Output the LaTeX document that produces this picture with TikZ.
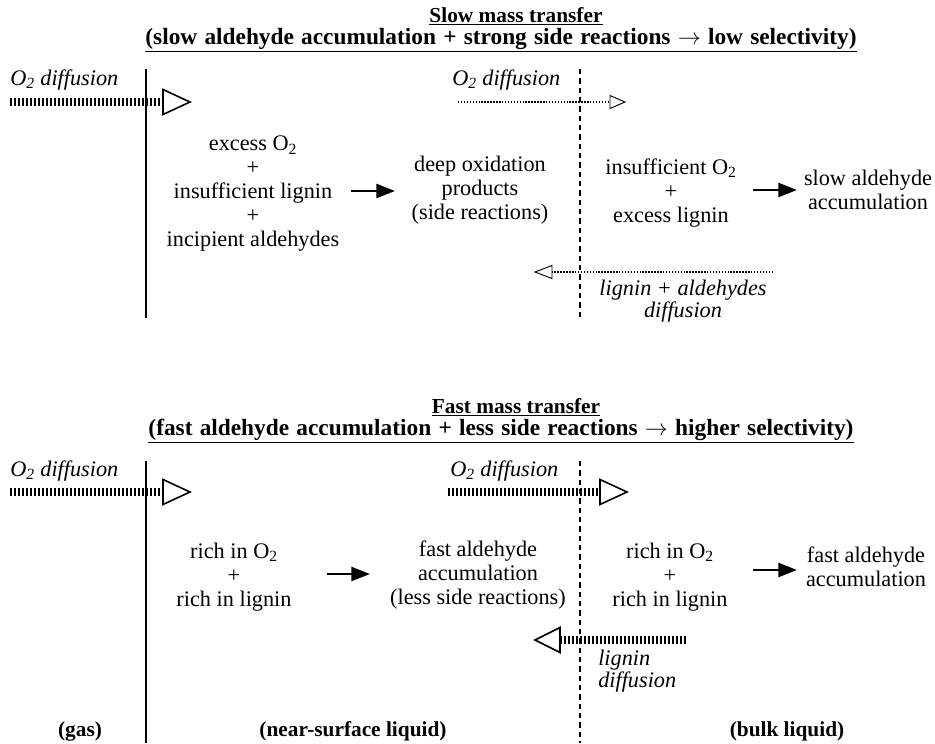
\documentclass[tikz,border=0pt]{standalone}
\usepackage{fontspec}
\setmainfont{Liberation Serif}
\usetikzlibrary{arrows.meta}
\newcommand\widespaces{\spaceskip=0.31em plus 0.1em\relax}
\begin{document}
\begin{tikzpicture}[x=0.75pt,y=-0.75pt,
  txt/.style={inner sep=0pt, align=center, font=\fontsize{16.7}{18}\selectfont},
  lbl/.style={inner sep=0pt, align=center, font=\fontsize{16.7}{17}\selectfont\itshape},
  hdr/.style={inner sep=0pt, font=\fontsize{16}{18}\selectfont\bfseries},
  hdrwide/.style={inner sep=0pt, font=\fontsize{17.5}{18}\selectfont\bfseries},
  wall/.style={line width=1.1pt},
  iface/.style={line width=1pt, dash pattern=on 4pt off 3pt},
  hatch/.style={line width=6pt, dash pattern=on 1.5pt off 1.5pt},
  dots/.style={line width=0.9pt, dash pattern=on 1.1pt off 1.1pt},
  tri/.style={line width=1.2pt, line join=miter},
  smalltri/.style={line width=0.7pt, line join=miter},
  blk/.style={line width=1.8pt, -{Triangle[length=14pt,width=10.5pt]}}
]
\useasboundingbox (0,0) rectangle (935,743);

% ================= top panel =================
\node[hdr] (t1) at (516,16) {\underline{Slow mass transfer}};
\node[hdrwide] (t2) at (501,40) {\widespaces\underline{(slow aldehyde accumulation + strong side reactions $\rightarrow$ low selectivity)}};

\coordinate (s1t) at (146,69); \coordinate (s1b) at (146,318);
\draw[wall] (s1t) -- (s1b);
\coordinate (d1t) at (580,69); \coordinate (d1b) at (580,320);
\draw[iface] (d1t) -- (d1b);

\node[lbl, anchor=west] (o2a) at (10,80) {O\textsubscript{2} diffusion};
\coordinate (h1s) at (10,102); \coordinate (h1e) at (163,102);
\draw[hatch] (h1s) -- (h1e);
\draw[tri] (h1e) ++(0,-12.5) -- ++(27,12.5) -- ++(-27,12.5) -- cycle;

\node[lbl, anchor=west] (o2b) at (452,80) {O\textsubscript{2} diffusion};
\coordinate (p1s) at (458,102); \coordinate (p1e) at (610,102);
\draw[dots] (p1s) -- (p1e);
\draw[smalltri] (p1e) ++(0,-6.5) -- ++(15,6.5) -- ++(-15,6.5) -- cycle;

\node[txt] (g1) at (253,194) {excess O\textsubscript{2}\\+\\insufficient lignin\\+\\incipient aldehydes};
\coordinate (a1s) at (351,191); \coordinate (a1e) at (395,191);
\draw[blk] (a1s) -- (a1e);
\node[txt] (g2) at (480,190) {deep oxidation\\products\\(side reactions)};
\node[txt] (g3) at (671,193) {insufficient O\textsubscript{2}\\+\\excess lignin};
\coordinate (a2s) at (753,190); \coordinate (a2e) at (797,190);
\draw[blk] (a2s) -- (a2e);
\node[txt] (g4) at (868,190) {slow aldehyde\\accumulation};

\coordinate (q1s) at (773,272); \coordinate (q1e) at (552,272);
\draw[dots] (q1s) -- (q1e);
\draw[smalltri] (q1e) ++(0,-6.5) -- ++(-17,6.5) -- ++(17,6.5) -- cycle;
\node[lbl] (ld1) at (683,301) {lignin + aldehydes\\diffusion};

% ================= bottom panel =================
\node[hdr] (t3) at (516,407) {\underline{Fast mass transfer}};
\node[hdrwide] (t4) at (501,431) {\widespaces\underline{(fast aldehyde accumulation + less side reactions $\rightarrow$ higher selectivity)}};

\coordinate (s2t) at (146,461); \coordinate (s2b) at (146,743);
\draw[wall] (s2t) -- (s2b);
\coordinate (d2t) at (580,461); \coordinate (d2b) at (580,743);
\draw[iface] (d2t) -- (d2b);

\node[lbl, anchor=west] (o2c) at (10,471) {O\textsubscript{2} diffusion};
\coordinate (h2s) at (10,492); \coordinate (h2e) at (163,492);
\draw[hatch] (h2s) -- (h2e);
\draw[tri] (h2e) ++(0,-12.5) -- ++(27,12.5) -- ++(-27,12.5) -- cycle;

\node[lbl, anchor=west] (o2d) at (450,471) {O\textsubscript{2} diffusion};
\coordinate (h3s) at (448,492); \coordinate (h3e) at (600,492);
\draw[hatch] (h3s) -- (h3e);
\draw[tri] (h3e) ++(0,-12.5) -- ++(27,12.5) -- ++(-27,12.5) -- cycle;

\node[txt] (g5) at (234,577) {rich in O\textsubscript{2}\\+\\rich in lignin};
\coordinate (a3s) at (327,574); \coordinate (a3e) at (370,574);
\draw[blk] (a3s) -- (a3e);
\node[txt] (g6) at (478,575) {fast aldehyde\\accumulation\\(less side reactions)};
\node[txt] (g7) at (670,577) {rich in O\textsubscript{2}\\+\\rich in lignin};
\coordinate (a4s) at (753,570); \coordinate (a4e) at (797,570);
\draw[blk] (a4s) -- (a4e);
\node[txt] (g8) at (866,567) {fast aldehyde\\accumulation};

\coordinate (h4s) at (686,640); \coordinate (h4e) at (560,640);
\draw[hatch] (h4s) -- (h4e);
\draw[tri] (h4e) ++(0,-12.5) -- ++(-25,12.5) -- ++(25,12.5) -- cycle;
\node[lbl, anchor=west, align=left] (ld2) at (598,671) {lignin\\diffusion};

\node[hdr] (b1) at (80,731) {(gas)};
\node[hdr] (b2) at (353,731) {(near-surface liquid)};
\node[hdr] (b3) at (787,731) {(bulk liquid)};
\end{tikzpicture}
\end{document}
